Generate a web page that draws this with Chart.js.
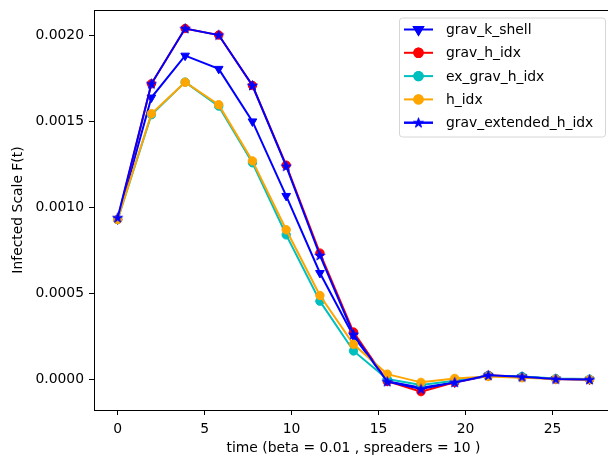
<!DOCTYPE html>
<html>
<head>
<meta charset="utf-8">
<script src="https://cdn.jsdelivr.net/npm/chart.js@4/dist/chart.umd.min.js"></script>
<style>
  html, body { margin: 0; padding: 0; background: #fff; overflow: hidden; }
  #wrap { width: 608px; height: 460px; overflow: hidden; }
</style>
</head>
<body>
<div id="wrap"><canvas id="chart" width="620" height="460"></canvas></div>
<script>
// time steps (x) and infected scale per method
const timeSteps = [0, 1.94, 3.88, 5.81, 7.75, 9.69, 11.63, 13.56, 15.5, 17.44, 19.38, 21.31, 23.25, 25.19, 27.13];
const gravKShell = [0.00093, 0.00164, 0.001884, 0.001807, 0.001501, 0.001067, 0.000618, 0.00025, -0.000012, -0.00005, -0.00002, 0.00002, 0.000013, 0.0, -0.000003];
const gravHIdx = [0.00093, 0.00172, 0.002042, 0.002004, 0.00171, 0.001246, 0.000734, 0.000274, -0.000012, -0.000073, -0.000018, 0.000022, 0.000013, 0.0, -0.000003];
const exGravHIdx = [0.00093, 0.00154, 0.00173, 0.00159, 0.00126, 0.00084, 0.000454, 0.000164, 0.0, -0.000035, -0.00001, 0.00002, 0.000015, 0.000003, 0.0];
const hIdx = [0.00093, 0.001546, 0.001729, 0.001598, 0.001271, 0.00087, 0.000487, 0.000203, 0.000029, -0.000019, 0.000004, 0.000015, 0.000008, 0.0, -0.000003];
const gravExtHIdx = [0.00094, 0.00172, 0.002042, 0.002004, 0.00171, 0.00124, 0.00072, 0.000261, -0.000015, -0.000058, -0.000019, 0.000022, 0.000013, 0.0, -0.000003];
const yTickValues = [0, 0.0005, 0.001, 0.0015, 0.002];
const xTickValues = [0, 5, 10, 15, 20, 25];

const FONT = { family: "'DejaVu Sans', sans-serif", size: 13.9 };

// filled star marker, like matplotlib '*'
function makeStar(color) {
  const c = document.createElement("canvas");
  c.width = 13; c.height = 13;
  const g = c.getContext("2d");
  const cx = 6.5, cy = 6.8, ro = 5.2, ri = ro * 0.382;
  g.beginPath();
  for (let i = 0; i < 10; i++) {
    const r = i % 2 === 0 ? ro : ri;
    const a = -Math.PI / 2 + i * Math.PI / 5;
    g.lineTo(cx + r * Math.cos(a), cy + r * Math.sin(a));
  }
  g.closePath();
  g.fillStyle = color;
  g.fill();
  g.strokeStyle = color;
  g.lineWidth = 1;
  g.stroke();
  return c;
}

const series = [
  { label: "grav_k_shell", data: gravKShell, color: "#0000ff", style: "triangle", rotation: 180, radius: 5 },
  { label: "grav_h_idx", data: gravHIdx, color: "#ff0000", style: "circle", rotation: 0, radius: 4.2 },
  { label: "ex_grav_h_idx", data: exGravHIdx, color: "#00bfbf", style: "circle", rotation: 0, radius: 4.2 },
  { label: "h_idx", data: hIdx, color: "#ffa500", style: "circle", rotation: 0, radius: 4.2 },
  { label: "grav_extended_h_idx", data: gravExtHIdx, color: "#0000ff", style: makeStar("#0000ff"), rotation: 0, radius: 5 }
];

const datasets = series.map((s, i) => ({
  label: s.label,
  data: timeSteps.map((t, k) => ({ x: t, y: s.data[k] })),
  borderColor: s.color,
  backgroundColor: s.color,
  borderWidth: 2,
  pointStyle: s.style,
  pointRotation: s.rotation,
  pointRadius: s.radius,
  pointBorderWidth: 1,
  pointBorderColor: s.color,
  pointBackgroundColor: s.color,
  tension: 0,
  order: series.length - i
}));

// frame around the axes + matplotlib-like legend box
const framePlugin = {
  id: "frame",
  afterDraw(chart) {
    const { ctx, chartArea: a } = chart;
    ctx.save();
    ctx.strokeStyle = "#000";
    ctx.lineWidth = 1;
    ctx.strokeRect(Math.round(a.left) + 0.5, Math.round(a.top) + 0.5, a.right - a.left, a.bottom - a.top);

    const right = a.right - 8, top = a.top + 7.5, left = right - 206, bottom = top + 119;
    ctx.beginPath();
    ctx.roundRect(left + 0.5, top + 0.5, right - left, bottom - top, 3);
    ctx.fillStyle = "rgba(255,255,255,0.8)";
    ctx.fill();
    ctx.strokeStyle = "#d6d6d6";
    ctx.stroke();

    ctx.font = `${FONT.size}px ${FONT.family}`;
    ctx.textBaseline = "middle";
    ctx.fillStyle = "#000";
    series.forEach((s, i) => {
      const y = top + 12 + i * 23.3;
      ctx.beginPath();
      ctx.strokeStyle = s.color;
      ctx.lineWidth = 2;
      ctx.moveTo(left + 5, y);
      ctx.lineTo(left + 34, y);
      ctx.stroke();
      Chart.helpers.drawPoint(ctx, {
        pointStyle: s.style, radius: s.radius, rotation: s.rotation, borderWidth: 1
      }, left + 19.5, y);
      ctx.fillStyle = s.color;
      ctx.strokeStyle = s.color;
      ctx.fill();
      ctx.stroke();
      ctx.fillStyle = "#000";
      ctx.fillText(s.label, left + 47, y + 1);
    });
    ctx.restore();
  }
};

new Chart(document.getElementById("chart"), {
  type: "line",
  data: { datasets },
  plugins: [framePlugin],
  options: {
    responsive: false,
    animation: false,
    events: [],
    layout: { padding: { top: 10, right: 7, left: 0, bottom: 0 } },
    plugins: { legend: { display: false }, tooltip: { enabled: false } },
    scales: {
      x: {
        type: "linear",
        min: -1.36,
        max: 28.48,
        afterBuildTicks: (scale) => { scale.ticks = xTickValues.map(v => ({ value: v })); },
        afterFit: (scale) => { scale.height = 50; scale.paddingLeft = 0; scale.paddingRight = 0; },
        ticks: { color: "#000", font: FONT, padding: 6, callback: (v) => String(v), maxRotation: 0 },
        grid: { drawOnChartArea: false, drawTicks: true, tickLength: 5, color: "#000" },
        border: { display: true, color: "#000" },
        title: { display: true, text: "time (beta = 0.01 , spreaders = 10 )", color: "#000", font: FONT, padding: { top: 0, bottom: 3 } }
      },
      y: {
        type: "linear",
        min: -0.00018,
        max: 0.00215,
        afterBuildTicks: (scale) => { scale.ticks = yTickValues.map(v => ({ value: v })); },
        afterFit: (scale) => { scale.width = 94; scale.paddingTop = 0; scale.paddingBottom = 0; },
        ticks: { color: "#000", font: FONT, padding: 5, callback: (v) => v.toFixed(4) },
        grid: { drawOnChartArea: false, drawTicks: true, tickLength: 5, color: "#000" },
        border: { display: true, color: "#000" },
        title: { display: true, text: "Infected Scale F(t)", color: "#000", font: FONT, padding: { top: 10, bottom: 0 } }
      }
    }
  }
});
</script>
</body>
</html>
